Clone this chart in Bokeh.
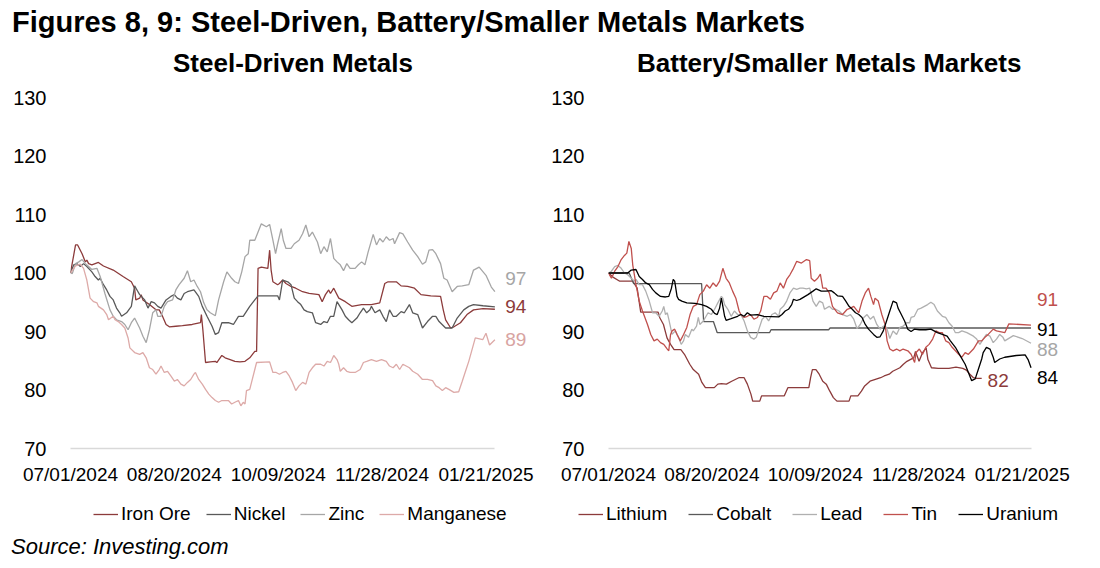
from bokeh.plotting import figure
from bokeh.models import FixedTicker, Legend, LegendItem, Div, Range1d
from bokeh.layouts import column, row
from bokeh.embed import file_html
from bokeh.resources import INLINE
from bokeh.core.properties import value

FONT = "Liberation Sans"

# ---------------- data (x = trading-day index from 07/01/2024) ----------------
tick_idx = [0, 35, 70, 105, 140]
tick_labels = ["07/01/2024", "08/20/2024", "10/09/2024", "11/28/2024", "01/21/2025"]
y_ticks = [70, 80, 90, 100, 110, 120, 130]

iron_ore = [(0,100.0),(1.7,104.8),(2.4,104.8),(3.9,103.3),(5.0,101.9),(5.5,102.2),(6.1,101.6),(7.2,101.4),(9.4,101.8),(11.1,101.2),(14.4,100.5),(17.7,99.4),(20.5,98.5),(21.6,97.4),(22.0,95.4),(23.3,95.7),(23.8,96.3),(24.4,95.4),(26.6,94.6),(28.8,93.7),(29.9,93.7),(31.0,92.6),(32.2,91.2),(33.3,90.8),(35.5,90.9),(37.7,91.0),(41.0,91.2),(43.8,91.5),(44.1,92.9),(44.6,90.3),(45.5,84.7),(47.1,84.8),(48.8,84.9),(49.3,84.7),(51.0,85.9),(52.1,85.5),(53.8,85.2),(55.4,84.9),(57.1,84.8),(58.8,84.9),(60.4,85.5),(62.1,86.6),(62.7,86.6),(63.2,100.8),(64.3,101.0),(66.5,100.8),(67.1,103.9),(67.6,100.5),(68.2,98.5),(69.8,98.0),(70.4,98.2),(71.5,98.8),(72.6,98.2),(74.3,97.7),(75.9,97.4),(78.2,96.8),(80.4,96.5),(83.7,96.3),(84.8,95.1),(85.9,96.3),(87.0,97.1),(87.6,96.5),(88.7,97.4),(90.4,95.7),(92.6,95.1),(94.8,94.3),(98.1,94.6),(101.4,94.6),(104.2,94.9),(105.9,98.2),(107.0,98.5),(109.8,98.5),(111.4,97.8),(113.6,97.7),(115.9,97.4),(118.1,96.3),(121.4,96.1),(124.7,96.0),(125.6,93.7),(126.4,92.0),(128.1,90.6),(129.2,90.8),(131.4,91.5),(133.6,92.9),(135.8,93.7),(139.0,93.9),(143.0,93.8)]

nickel = [(0,100.0),(1.1,101.4),(2.2,101.6),(3.3,101.1),(4.4,101.6),(5.5,101.1),(7.2,100.2),(8.3,99.4),(9.4,98.8),(10.0,99.1),(11.1,98.0),(12.2,97.1),(13.3,96.0),(14.4,95.4),(15.5,94.0),(16.6,93.2),(17.2,92.6),(18.9,93.2),(20.5,94.3),(21.6,97.8),(22.4,97.1),(23.3,96.3),(25.0,95.4),(26.1,94.0),(27.2,95.1),(28.3,94.9),(29.4,94.3),(30.5,94.0),(32.2,95.4),(33.8,96.0),(35.0,96.3),(36.0,95.7),(37.2,95.4),(38.3,96.5),(39.4,96.8),(41.6,97.1),(43.2,96.0),(44.4,94.3),(46.0,92.6),(47.7,90.9),(48.8,89.5),(49.9,89.8),(51.0,91.5),(53.2,91.5),(54.9,91.2),(56.6,92.6),(58.2,92.6),(60.4,94.3),(62.1,95.4),(63.2,96.1),(69.8,96.1),(70.4,95.4),(71.5,98.8),(73.2,98.5),(74.3,98.0),(75.4,95.7),(76.5,95.1),(77.6,94.6),(78.7,93.7),(79.8,93.4),(81.5,93.2),(82.6,91.5),(84.3,91.2),(85.4,91.7),(86.5,91.5),(87.6,92.6),(88.7,92.6),(89.8,95.1),(91.5,93.7),(92.6,92.6),(93.7,92.0),(94.8,91.5),(96.5,92.3),(97.6,93.2),(98.7,94.0),(99.8,93.2),(100.9,93.7),(101.4,94.3),(102.6,93.2),(104.2,93.7),(105.3,92.6),(106.4,91.7),(107.5,93.7),(108.7,92.6),(109.8,92.6),(111.4,93.4),(112.5,93.2),(114.2,94.6),(115.3,93.2),(117.0,92.9),(118.6,90.6),(120.3,91.7),(122.0,92.6),(123.1,92.6),(124.2,91.7),(126.4,90.6),(128.6,90.6),(130.3,92.3),(132.5,93.7),(134.2,94.3),(135.8,94.6),(139.0,94.4),(143.0,94.2)]

zinc = [(0,100.0),(0.6,99.9),(1.7,101.6),(2.8,101.9),(3.9,102.3),(5.0,101.6),(6.1,101.1),(7.2,100.6),(8.9,100.8),(10.0,99.4),(11.6,96.5),(13.3,93.7),(14.4,92.6),(15.5,92.0),(17.2,91.7),(18.3,91.2),(19.4,90.3),(20.5,91.5),(21.6,92.3),(23.3,90.6),(24.4,89.2),(25.5,88.1),(26.6,90.3),(27.7,93.2),(28.8,93.7),(29.4,92.6),(30.5,92.6),(31.6,94.3),(32.7,95.1),(34.4,95.4),(35.5,97.1),(36.6,98.0),(38.3,99.1),(39.4,100.4),(40.5,98.5),(41.6,98.8),(42.7,97.7),(43.8,96.8),(44.9,94.9),(46.0,93.7),(47.1,93.2),(48.8,92.7),(49.9,95.4),(51.6,98.5),(52.7,100.2),(54.3,99.1),(55.4,98.5),(56.6,98.2),(57.7,100.2),(58.8,102.8),(59.9,103.3),(60.4,105.6),(62.1,105.6),(63.2,107.0),(64.3,108.4),(66.0,107.9),(67.1,108.3),(68.2,105.6),(69.1,103.3),(69.8,105.0),(71.0,107.6),(71.7,105.6),(72.6,104.2),(74.3,104.2),(75.4,105.0),(77.0,105.6),(78.2,106.7),(79.3,108.2),(80.4,106.2),(81.5,107.0),(83.2,105.3),(84.3,103.3),(85.4,104.5),(86.5,103.6),(87.6,105.9),(88.7,102.5),(89.8,101.9),(90.9,101.4),(92.0,100.4),(93.1,101.6),(94.2,100.8),(95.9,100.8),(97.0,101.4),(98.1,101.9),(99.2,101.4),(100.3,103.6),(102.0,106.6),(103.1,104.8),(104.2,105.9),(105.3,105.3),(106.4,106.2),(107.5,105.6),(108.7,105.9),(109.2,105.0),(110.9,106.9),(112.0,106.7),(113.6,105.3),(115.3,103.9),(117.0,102.8),(118.6,101.5),(119.7,101.9),(120.8,103.9),(122.0,104.0),(123.1,103.3),(124.7,101.6),(125.8,99.1),(126.9,98.8),(128.6,96.8),(130.3,97.7),(132.0,97.8),(134.2,98.0),(135.8,100.5),(137.7,101.0),(140.0,99.6),(141.8,97.6),(143.0,96.8)]

manganese = [(0,100.0),(1.7,101.2),(3.3,101.5),(4.4,100.8),(5.5,98.8),(6.6,95.7),(7.8,95.1),(8.9,94.9),(9.4,94.3),(11.1,93.7),(12.2,92.9),(12.8,92.0),(14.4,92.6),(15.0,92.0),(16.1,91.7),(17.2,91.2),(18.3,90.6),(19.4,88.9),(20.0,87.2),(21.6,86.4),(23.3,86.1),(24.4,86.4),(25.5,85.5),(26.6,83.8),(27.7,83.5),(28.8,82.7),(29.9,83.5),(30.5,84.1),(31.6,83.0),(32.7,83.2),(33.8,82.4),(35.0,81.5),(36.0,81.8),(37.2,81.0),(38.3,80.7),(39.4,81.3),(40.5,81.8),(41.6,82.7),(42.1,83.0),(43.2,81.8),(44.4,81.0),(45.5,80.1),(46.6,79.3),(47.7,78.7),(48.8,78.2),(49.9,77.9),(51.0,78.2),(53.2,78.2),(54.3,77.6),(55.4,77.9),(56.6,78.2),(57.4,77.3),(58.2,77.9),(58.8,77.6),(59.3,79.9),(60.4,80.1),(61.0,81.3),(62.1,83.5),(62.7,84.7),(67.1,84.8),(68.2,83.0),(69.3,83.0),(70.4,82.7),(71.5,83.0),(72.6,83.2),(73.7,82.4),(74.8,81.3),(75.9,79.9),(77.0,80.7),(78.2,81.3),(79.3,81.0),(80.4,83.0),(81.5,83.8),(82.6,84.4),(84.3,84.4),(85.4,84.1),(86.5,84.9),(87.6,84.7),(88.1,85.2),(88.7,85.9),(89.8,85.2),(90.4,84.4),(90.9,83.2),(92.0,83.8),(93.1,83.2),(94.2,83.0),(95.9,83.0),(97.6,83.5),(98.7,84.7),(99.8,84.9),(101.4,85.2),(103.1,84.9),(104.8,85.2),(106.4,84.9),(107.5,84.1),(108.7,83.8),(109.8,84.4),(110.9,83.5),(112.0,84.4),(113.1,84.1),(114.2,83.8),(115.3,83.2),(117.0,82.7),(118.6,81.8),(120.3,81.8),(122.0,81.6),(123.1,80.7),(124.2,80.4),(125.3,79.9),(126.4,80.4),(127.5,80.1),(129.2,79.6),(130.8,79.7),(132.0,81.5),(133.1,83.2),(134.2,84.9),(135.3,86.9),(136.4,88.9),(138.9,88.6),(140.0,89.7),(141.2,87.7),(143.0,88.6)]

lithium = [(0,100.0),(1.5,99.3),(3.8,98.6),(8.2,98.6),(9.7,97.4),(10.9,93.3),(16.8,93.3),(17.4,92.3),(18.6,91.2),(19.8,88.9),(21.0,87.8),(22.2,86.9),(24.5,86.9),(25.7,86.1),(27.5,84.4),(28.7,83.5),(30.5,82.7),(31.6,81.3),(32.8,80.4),(35.8,80.4),(37.0,81.0),(38.2,81.1),(39.9,81.0),(41.7,81.5),(44.1,82.1),(45.9,82.1),(47.0,81.0),(48.2,79.3),(48.8,78.1),(51.2,78.1),(51.8,79.0),(59.5,79.0),(60.7,80.4),(67.8,80.4),(68.4,82.1),(69.0,83.5),(70.2,83.5),(71.3,82.7),(72.5,81.5),(73.7,81.0),(74.9,79.8),(76.1,78.7),(77.3,78.1),(81.4,78.1),(82.0,79.0),(84.4,79.0),(85.6,79.8),(86.7,80.7),(88.5,81.5),(90.3,81.8),(92.1,82.1),(93.3,82.4),(95.0,82.7),(96.2,83.2),(97.4,83.5),(98.6,83.8),(99.8,84.4),(101.0,84.9),(102.1,85.2),(103.3,85.5),(103.9,86.6),(105.1,84.9),(106.3,86.4),(107.5,87.2),(108.1,85.2),(109.3,83.8),(111.6,83.7),(115.2,83.7),(117.6,83.9),(119.9,83.7),(121.1,83.4),(122.3,82.7),(123.5,82.1),(124.6,82.0),(126.3,82.0)]

cobalt = [(0,100.0),(7.0,100.0),(8.5,98.2),(31.5,98.2),(32.2,91.7),(35.5,91.7),(36.8,89.8),(54.5,89.8),(55.0,90.3),(74.5,90.3),(75.0,90.6),(143.0,90.6)]

lead = [(0,100.0),(1.0,100.3),(2.1,101.1),(3.2,101.3),(4.3,100.8),(5.4,100.0),(6.5,99.7),(7.7,99.1),(8.8,98.6),(9.3,98.9),(10.4,98.0),(11.5,98.0),(12.6,96.9),(13.8,95.2),(14.9,93.2),(16.0,93.2),(17.1,92.6),(18.2,93.5),(18.7,94.3),(19.3,92.9),(19.9,93.2),(20.4,92.1),(21.5,89.5),(22.6,90.1),(23.7,89.0),(24.6,87.8),(25.4,88.4),(26.0,89.5),(27.1,89.0),(28.2,90.4),(28.7,90.1),(29.8,90.9),(30.4,92.4),(30.9,91.2),(32.1,91.8),(33.7,93.2),(34.8,92.9),(35.9,93.8),(37.0,94.9),(38.2,96.0),(38.7,95.7),(39.3,94.6),(40.4,93.8),(41.5,92.6),(42.6,93.5),(43.7,92.9),(44.8,92.9),(45.9,91.8),(47.0,90.1),(48.1,89.0),(49.2,88.7),(50.0,89.0),(50.9,90.4),(52.0,92.1),(53.1,92.6),(54.2,91.8),(55.3,92.9),(56.4,93.2),(57.6,92.6),(58.1,93.8),(59.2,94.3),(60.3,95.2),(61.4,96.6),(62.6,97.4),(63.7,97.2),(64.8,97.4),(65.8,97.4),(67.0,97.3),(68.1,97.4),(69.2,95.2),(70.3,94.3),(71.4,95.2),(72.5,94.9),(73.1,93.8),(74.7,94.3),(75.8,93.8),(76.9,93.8),(78.0,93.5),(79.2,92.9),(80.8,92.6),(81.9,92.9),(83.0,92.1),(84.1,90.5),(85.2,91.2),(86.4,92.4),(87.5,92.9),(88.6,92.1),(89.7,92.6),(90.8,91.2),(91.9,90.4),(93.0,90.9),(94.1,90.7),(95.2,88.8),(96.3,90.1),(97.5,89.5),(98.6,90.7),(99.7,90.9),(100.8,91.5),(101.9,91.5),(102.4,92.4),(103.5,92.6),(104.7,93.8),(105.8,94.0),(106.9,94.3),(108.0,94.6),(109.1,95.0),(110.2,94.6),(111.3,93.5),(113.0,92.6),(114.1,92.4),(115.2,91.5),(116.3,90.9),(117.4,89.8),(118.5,89.8),(119.6,90.1),(121.3,89.8),(122.4,89.5),(123.5,89.2),(124.6,88.7),(125.7,87.8),(126.8,88.7),(127.9,89.5),(129.1,89.2),(130.2,88.1),(131.3,88.7),(132.4,89.5),(133.5,89.0),(134.1,88.4),(137.0,89.3),(140.0,88.8),(143.0,88.0)]

tin = [(0,100.0),(1.0,99.1),(2.1,100.3),(3.2,101.1),(4.3,102.3),(5.4,103.0),(6.2,103.4),(6.9,105.4),(7.7,104.2),(8.2,101.4),(9.3,98.0),(10.4,95.2),(11.5,93.5),(13.2,91.2),(14.3,89.5),(15.4,88.4),(16.5,88.7),(17.6,88.1),(18.7,87.8),(19.9,87.0),(20.4,86.7),(21.0,89.5),(21.5,90.1),(22.4,90.4),(23.2,89.5),(24.3,88.4),(25.4,89.5),(26.5,90.7),(27.6,92.9),(28.7,94.3),(29.8,94.6),(30.9,96.3),(32.1,96.9),(33.2,98.0),(34.3,97.4),(35.4,98.3),(36.5,97.7),(37.6,98.6),(38.7,100.8),(39.8,99.1),(40.9,98.3),(42.0,96.9),(43.1,95.7),(44.2,93.5),(44.8,92.9),(45.9,92.4),(47.0,92.6),(48.1,92.9),(49.2,92.1),(50.4,92.4),(51.5,93.5),(52.6,96.0),(53.7,96.0),(54.8,95.5),(55.9,96.6),(57.0,96.9),(58.1,98.3),(59.2,97.4),(60.3,98.9),(61.4,99.7),(62.6,100.8),(63.7,102.0),(65.3,101.7),(67.0,102.3),(68.1,102.1),(68.6,99.1),(69.7,98.6),(70.8,99.1),(71.7,99.8),(72.5,97.4),(73.6,97.4),(74.7,96.6),(75.8,94.3),(77.5,93.2),(79.2,92.9),(80.8,93.8),(81.9,94.0),(83.0,94.3),(84.7,93.2),(85.8,95.2),(86.9,96.6),(88.0,97.4),(88.8,96.0),(89.7,94.6),(90.2,95.7),(91.3,95.2),(92.5,92.9),(93.6,91.2),(94.3,88.4),(95.2,87.0),(96.3,86.7),(97.5,87.0),(98.6,86.7),(99.7,87.0),(101.3,86.7),(102.4,86.1),(103.6,84.7),(104.1,86.4),(105.2,87.0),(106.3,86.1),(107.4,87.3),(108.5,87.8),(109.7,88.7),(110.8,90.1),(111.9,89.8),(113.0,89.8),(114.1,88.4),(115.2,88.1),(116.3,87.3),(117.4,86.7),(118.5,86.1),(119.6,85.6),(120.7,86.4),(121.8,86.1),(123.5,87.0),(125.2,88.4),(126.3,88.4),(127.4,89.0),(128.5,89.5),(130.2,90.4),(131.3,90.1),(134.1,89.8),(135.5,91.3),(143.0,91.1)]

uranium = [(0,100.0),(6.5,100.0),(7.7,100.5),(9.3,100.6),(10.4,99.4),(11.5,98.9),(12.6,98.3),(13.8,98.0),(14.9,97.2),(16.0,96.6),(17.6,96.0),(19.3,95.9),(20.4,96.0),(21.3,97.4),(21.9,98.9),(22.4,98.6),(23.2,96.0),(23.7,95.5),(24.8,95.2),(26.5,94.9),(29.3,94.8),(31.5,94.6),(33.2,94.3),(34.8,93.8),(35.9,93.1),(36.8,92.9),(37.6,94.0),(38.2,95.7),(38.7,94.3),(39.3,92.6),(39.8,91.9),(41.5,92.2),(43.7,92.6),(44.8,92.9),(45.9,92.6),(47.0,93.2),(48.1,92.8),(50.4,92.9),(52.6,92.6),(57.6,92.5),(58.7,92.9),(59.8,93.5),(60.9,93.8),(62.0,94.6),(62.6,95.5),(63.7,95.3),(64.8,95.5),(65.8,95.8),(67.5,96.3),(69.2,96.9),(70.3,97.3),(72.0,96.9),(73.6,96.9),(75.3,97.0),(76.4,96.6),(77.5,96.1),(79.2,96.0),(80.3,95.2),(81.4,94.3),(82.5,93.8),(83.6,93.2),(84.7,92.9),(85.8,92.4),(86.9,91.2),(88.0,90.4),(89.7,89.5),(90.8,89.0),(91.9,89.1),(93.0,90.1),(94.1,91.8),(95.2,93.5),(96.3,95.2),(97.5,94.9),(98.0,94.0),(99.1,92.9),(100.2,91.8),(101.3,90.4),(102.4,90.0),(103.5,90.4),(105.2,90.3),(107.4,90.3),(109.1,90.4),(110.2,90.1),(111.3,89.8),(113.0,89.5),(114.6,89.2),(115.7,88.4),(117.4,87.3),(119.1,85.8),(120.7,84.4),(121.8,83.0),(122.9,81.6),(124.1,81.9),(125.2,83.6),(126.3,85.3),(126.8,86.4),(127.9,87.3),(129.1,87.0),(130.2,85.6),(130.7,84.7),(132.4,85.3),(134.1,85.6),(138.0,85.9),(141.0,86.0),(142.0,85.2),(143.0,83.8)]

# ---------------- styles ----------------
# (name, data, colour, end-label colour or None, label dx, label dy)
left_series = [
    ("Iron Ore", iron_ore, "#8C3B3B", "#8C3B3B", 3.5, 0.4),
    ("Nickel", nickel, "#595959", None, 0, 0),
    ("Zinc", zinc, "#A6A6A6", "#A6A6A6", 3.5, 2.3),
    ("Manganese", manganese, "#DDAAA8", "#D8A4A2", 3.5, 0.0),
]
right_series = [
    ("Lithium", lithium, "#8C3B3B", "#8C3B3B", 2.0, -0.4),
    ("Cobalt", cobalt, "#595959", "#000000", 2.0, -0.3),
    ("Lead", lead, "#B0B0B0", "#A6A6A6", 2.0, -1.1),
    ("Tin", tin, "#C0504D", "#C0504D", 2.0, 4.4),
    ("Uranium", uranium, "#000000", "#000000", 2.0, -1.6),
]

TOP = 17
FRAME_H = 351
BOTTOM = 47
FRAME_W = 460
LEG_H = 37


def make_chart(series, mb_left, mb_right):
    p = figure(width=mb_left + FRAME_W + mb_right, height=TOP + FRAME_H + BOTTOM,
               output_backend="svg", toolbar_location=None,
               x_range=Range1d(0, 155), y_range=Range1d(70, 130),
               min_border_left=mb_left, min_border_right=mb_right,
               min_border_top=TOP, min_border_bottom=BOTTOM)
    p.outline_line_color = None
    p.grid.visible = False
    p.border_fill_color = "white"

    last_x = max(d[-1][0] for _, d, *_ in series)
    xa = p.xaxis[0]
    xa.ticker = FixedTicker(ticks=tick_idx)
    xa.major_label_overrides = {t: l for t, l in zip(tick_idx, tick_labels)}
    xa.bounds = (0, last_x)
    xa.axis_line_color = "#D9D9D9"
    xa.axis_line_width = 1.3
    xa.major_tick_line_color = None
    xa.minor_tick_line_color = None
    xa.major_label_text_font = FONT
    xa.major_label_text_font_size = "19px"
    xa.major_label_text_color = "#000000"
    xa.major_label_standoff = 9

    ya = p.yaxis[0]
    ya.ticker = FixedTicker(ticks=y_ticks)
    ya.axis_line_color = None
    ya.major_tick_line_color = None
    ya.minor_tick_line_color = None
    ya.major_label_text_font = FONT
    ya.major_label_text_font_size = "20px"
    ya.major_label_text_color = "#000000"
    ya.major_label_standoff = 18

    for name, data, color, lab_color, dx, dy in series:
        xs = [d[0] for d in data]
        ys = [d[1] for d in data]
        p.line(xs, ys, line_color=color, line_width=1.3)
        if lab_color is not None:
            p.text(x=[xs[-1] + dx], y=[ys[-1] + dy], text=[str(int(round(ys[-1])))],
                   text_color=lab_color, text_font=value(FONT), text_font_size="19px",
                   text_align="left", text_baseline="middle")
    return p


def make_legend(series, width, spacing, legend_x):
    # legend strip: the series' own lines are drawn far outside its view,
    # so that only the legend swatches and labels show
    lf = figure(width=width, height=LEG_H, output_backend="svg", toolbar_location=None,
                x_axis_type=None, y_axis_type=None,
                x_range=Range1d(0, 1), y_range=Range1d(0, 1), min_border=0)
    lf.outline_line_color = None
    lf.grid.visible = False
    items = []
    for name, data, color, *_ in series:
        r = lf.line([d[0] for d in data], [d[1] for d in data],
                    line_color=color, line_width=1.3)
        items.append(LegendItem(label=name, renderers=[r]))
    legend = Legend(items=items, orientation="horizontal", location=(legend_x, 7),
                    label_text_font=FONT, label_text_font_size="19px",
                    label_text_color="#000000", glyph_width=25, glyph_height=18,
                    label_height=20, label_standoff=3, spacing=spacing, padding=0,
                    margin=0, border_line_color=None, background_fill_alpha=0)
    lf.add_layout(legend)
    return lf


def text_div(text, width, height, size, pad_left, line_height, bold=False, italic=False):
    styles = {"font-family": FONT, "font-size": size, "line-height": line_height,
              "padding-left": pad_left, "color": "#000000", "white-space": "nowrap"}
    if bold:
        styles["font-weight"] = "bold"
    if italic:
        styles["font-style"] = "italic"
    return Div(text=text, width=width, height=height, margin=(0, 0, 0, 0), styles=styles)


W1 = 70 + FRAME_W + 18
W2 = 58 + FRAME_W + 26

p1 = make_chart(left_series, 70, 18)
p2 = make_chart(right_series, 58, 26)
l1 = make_legend(left_series, W1, 15, 93)
l2 = make_legend(right_series, W2, 21, 30)

title_div = text_div("Figures 8, 9: Steel-Driven, Battery/Smaller Metals Markets",
                     W1 + W2, 40, "29px", "12px", "45px", bold=True)
sub1 = text_div("Steel-Driven Metals", W1, 40, "26px", "173px", "47px", bold=True)
sub2 = text_div("Battery/Smaller Metals Markets", W2, 40, "26px", "89px", "47px", bold=True)
source_div = text_div("Source: Investing.com", W1 + W2, 30, "22px", "11px", "30px", italic=True)

layout = column(title_div, row(sub1, sub2), row(p1, p2), row(l1, l2), source_div)
open("out.html", "w").write(file_html(layout, INLINE))
